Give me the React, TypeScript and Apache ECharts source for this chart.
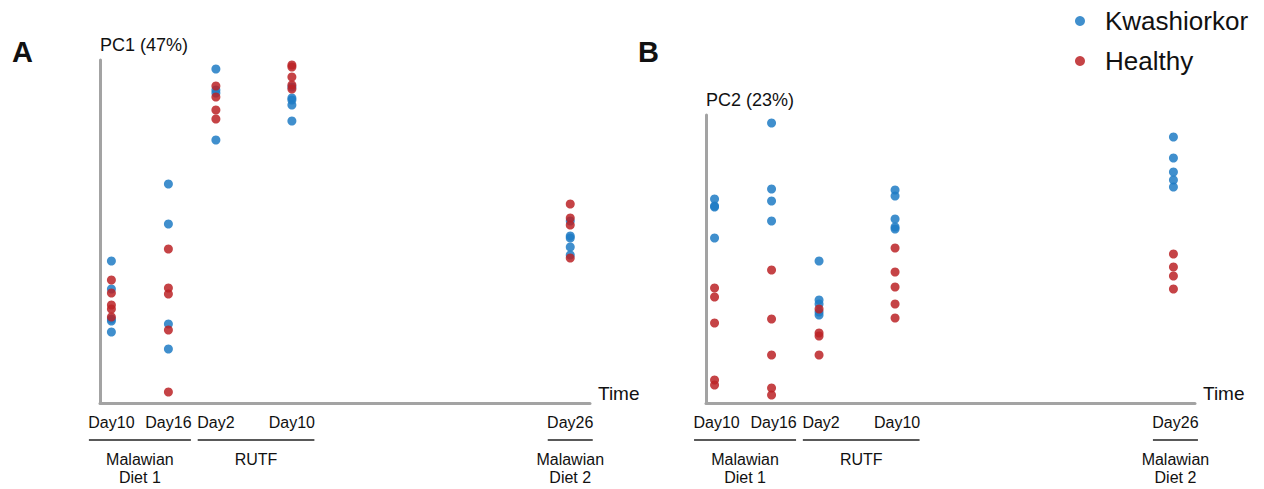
import React, { useEffect, useRef } from 'react';
import * as echarts from 'echarts';

// Sampling time points (days on a common study time line)
const timeDays = [10, 16, 21, 29, 58.3];
const dayLabels = ['Day10', 'Day16', 'Day2', 'Day10', 'Day26'];
const groupNames = ['Malawian\nDiet 1', 'RUTF', 'Malawian\nDiet 2'];
const groupFrom = [0, 2, 4];
const groupTo = [1, 3, 4];

// PC1 scores (arbitrary units above axis origin), per time point
const pc1Kwashiorkor = [
  [142, 114, 84, 82, 71],
  [219, 179, 79, 54],
  [334, 313, 310, 263],
  [316, 305, 303, 298, 282],
  [182, 167, 165, 156, 148],
];
const pc1Healthy = [
  [123, 110, 98, 94, 86],
  [154, 115, 109, 73, 11],
  [317, 306, 293, 284],
  [338, 336, 326, 318, 314],
  [199, 185, 178, 145],
];

// PC2 scores
const pc2Kwashiorkor = [
  [204, 197, 196, 165],
  [280, 214, 202, 182],
  [142, 103, 99, 91, 88],
  [213, 207, 184, 176, 174],
  [266, 245, 231, 223, 216],
];
const pc2Healthy = [
  [115, 106, 80, 23, 18],
  [133, 84, 48, 15, 8],
  [94, 70, 67, 48],
  [155, 131, 116, 99, 85],
  [149, 136, 127, 114],
];

const FONT = '"Liberation Sans", Arial, Helvetica, sans-serif';
const BLUE = '#1f7bc4';
const RED = '#bb2226';

const toPoints = (arr: number[][]) =>
  arr.flatMap((vals, i) => vals.map((v) => [timeDays[i], v]));

export default function App() {
  const ref = useRef<HTMLDivElement>(null);
  useEffect(() => {
    document.body.style.margin = '0';
    const chart = echarts.init(ref.current!, null, { renderer: 'svg' });

    const axisLine = { show: true, lineStyle: { color: '#a3a3a3', width: 3 } };
    const mkX = (idx: number, min: number, max: number) => ({
      type: 'value',
      gridIndex: idx,
      min,
      max,
      axisLine,
      axisTick: { show: false },
      axisLabel: { show: false },
      splitLine: { show: false },
      name: 'Time',
      nameLocation: 'end',
      nameGap: 8,
      nameTextStyle: {
        fontSize: 19,
        color: '#111',
        fontFamily: FONT,
        align: 'left',
        verticalAlign: 'bottom',
      },
    });
    const mkY = (idx: number, max: number, name: string) => ({
      type: 'value',
      gridIndex: idx,
      min: 0,
      max,
      axisLine,
      axisTick: { show: false },
      axisLabel: { show: false },
      splitLine: { show: false },
      name,
      nameLocation: 'end',
      nameGap: 6,
      nameTextStyle: {
        fontSize: 18,
        color: '#111',
        fontFamily: FONT,
        align: 'left',
        verticalAlign: 'bottom',
      },
    });
    const mkS = (name: string, color: string, data: number[][], idx: number) => ({
      type: 'scatter',
      name,
      xAxisIndex: idx,
      yAxisIndex: idx,
      data: toPoints(data),
      symbolSize: 9,
      itemStyle: { color, opacity: 0.85 },
      emphasis: { disabled: true },
    });

    chart.setOption({
      animation: false,
      grid: [
        { left: 100, top: 60, width: 490, height: 343 },
        { left: 706, top: 115, width: 489, height: 288 },
      ],
      xAxis: [mkX(0, 8.8, 60.38), mkX(1, 9.1, 60.57)],
      yAxis: [mkY(0, 343, 'PC1 (47%)'), mkY(1, 288, 'PC2 (23%)')],
      legend: {
        data: ['Kwashiorkor', 'Healthy'],
        orient: 'vertical',
        left: 1075,
        top: 8,
        padding: 0,
        itemWidth: 10,
        itemHeight: 10,
        itemGap: 14,
        icon: 'circle',
        textStyle: {
          fontSize: 26,
          lineHeight: 26,
          color: '#111',
          fontFamily: FONT,
          padding: [0, 0, 0, 15],
        },
      },
      series: [
        mkS('Kwashiorkor', BLUE, pc1Kwashiorkor, 0),
        mkS('Healthy', RED, pc1Healthy, 0),
        mkS('Kwashiorkor', BLUE, pc2Kwashiorkor, 1),
        mkS('Healthy', RED, pc2Healthy, 1),
      ],
    });

    const elements: any[] = [];
    const letters = [
      { t: 'A', x: 12 },
      { t: 'B', x: 638 },
    ];
    letters.forEach((l) =>
      elements.push({
        type: 'text',
        x: l.x,
        y: 52,
        style: { text: l.t, font: `bold 29px ${FONT}`, fill: '#111', verticalAlign: 'middle' },
      })
    );
    const shifts = [0, 2];
    [0, 1].forEach((pi) => {
      const px = (i: number) =>
        (chart.convertToPixel({ xAxisIndex: pi } as any, timeDays[i]) as number) + shifts[pi];
      const half = (i: number) => dayLabels[i].length * 4.3 + 1;
      dayLabels.forEach((lab, i) =>
        elements.push({
          type: 'text',
          x: px(i),
          y: 422,
          style: {
            text: lab,
            font: `16px ${FONT}`,
            fill: '#111',
            align: 'center',
            verticalAlign: 'middle',
          },
        })
      );
      groupNames.forEach((g, gi) => {
        const x1 = px(groupFrom[gi]) - half(groupFrom[gi]);
        const x2 = px(groupTo[gi]) + half(groupTo[gi]);
        elements.push({
          type: 'line',
          shape: { x1, y1: 440, x2, y2: 440 },
          style: { stroke: '#222', lineWidth: 1.5 },
        });
        elements.push({
          type: 'text',
          x: (x1 + x2) / 2,
          y: 450,
          style: {
            text: g,
            font: `16px ${FONT}`,
            fill: '#111',
            align: 'center',
            verticalAlign: 'top',
            lineHeight: 18,
          },
        });
      });
    });
    chart.setOption({ graphic: elements });

    return () => chart.dispose();
  }, []);
  return <div ref={ref} style={{ width: 1264, height: 489 }} />;
}
